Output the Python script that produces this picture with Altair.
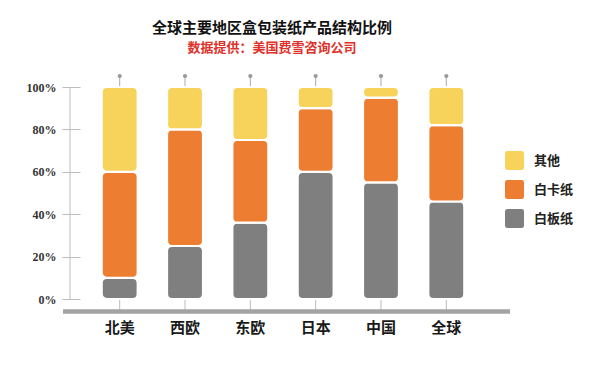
import altair as alt
import pandas as pd

categories = ["北美", "西欧", "东欧", "日本", "中国", "全球"]
series_names = ["其他", "白卡纸", "白板纸"]
baiban = [10, 25, 36, 60, 55, 46]   # 白板纸 (bottom, gray)
baika = [50, 55, 39, 30, 40, 36]    # 白卡纸 (middle, orange)
qita = [40, 20, 25, 10, 5, 18]      # 其他 (top, yellow)
colors = ["#F7D35C", "#ED7D31", "#7F7F7F"]
y_ticks = [0, 0.2, 0.4, 0.6, 0.8, 1.0]

rows = []
for i, c in enumerate(categories):
    total = baiban[i] + baika[i] + qita[i]
    start = 0
    for name, vals in (("白板纸", baiban), ("白卡纸", baika), ("其他", qita)):
        v = vals[i]
        rows.append({"region": c, "type": name, "value": v,
                     "y0": start / total, "y1": (start + v) / total})
        start += v
df = pd.DataFrame(rows)
cat_df = pd.DataFrame({"region": categories})
one = pd.DataFrame({"k": [0]})

FONT = "Noto Sans CJK SC"
x_scale = alt.Scale(paddingInner=0.449, paddingOuter=0.225)
x_axis = alt.Axis(
    title=None, domain=False, ticks=False, labelPadding=21,
    labelFont=FONT, labelFontSize=15, labelFontWeight="bold",
    labelColor="#1a1a1a", labelAngle=0, labelAlign="center",
    labelBaseline="top",
)


def x_enc():
    return alt.X("region:N", sort=categories, scale=x_scale, axis=x_axis)


bars = alt.Chart(df).mark_bar(cornerRadius=5, stroke="white", strokeWidth=2.2).encode(
    x=x_enc(),
    y=alt.Y(
        "y0:Q",
        scale=alt.Scale(domain=[0, 1], nice=False),
        axis=alt.Axis(
            title=None, values=y_ticks, format=".0%", grid=False, domain=False,
            offset=7, tickSize=18, tickColor="#bdbdbd", tickWidth=1,
            labelPadding=6, labelFont="Liberation Serif", labelFontSize=12,
            labelFontWeight="bold", labelColor="#333333",
        ),
    ),
    y2="y1:Q",
    color=alt.Color(
        "type:N",
        scale=alt.Scale(domain=series_names, range=colors),
        legend=alt.Legend(
            title=None, orient="none", legendX=418, legendY=64,
            symbolType="M -0.75,-1 H 0.75 Q 1,-1 1,-0.75 V 0.75 Q 1,1 0.75,1 H -0.75 Q -1,1 -1,0.75 V -0.75 Q -1,-1 -0.75,-1 Z",
            symbolSize=361, symbolStrokeWidth=0, symbolOpacity=1,
            rowPadding=10, labelOffset=10,
            labelFont=FONT, labelFontSize=13, labelFontWeight="bold",
            labelColor="#222222",
        ),
    ),
)

top_rules = alt.Chart(cat_df).mark_rule(color="#aaaaaa", strokeWidth=1).encode(
    x=x_enc(), y=alt.value(-11), y2=alt.value(0),
)
dots = alt.Chart(cat_df).mark_circle(color="#999999", opacity=1, size=18).encode(
    x=x_enc(), y=alt.value(-11),
)
bottom_rules = alt.Chart(cat_df).mark_rule(color="#bbbbbb", strokeWidth=1).encode(
    x=x_enc(), y=alt.value(212), y2=alt.value(224),
)
axis_bar = alt.Chart(one).mark_rule(color="#a3a3a3", strokeWidth=4.5).encode(
    x=alt.value(-24), x2=alt.value(423), y=alt.value(224.5),
)
y_line = alt.Chart(one).mark_rule(color="#bdbdbd", strokeWidth=1).encode(
    x=alt.value(-17), y=alt.value(0), y2=alt.value(212),
)

chart = alt.layer(y_line, bottom_rules, axis_bar, top_rules, dots, bars).properties(
    width=392,
    height=212,
    autosize="none",
    padding={"left": 79, "top": 79, "right": 113, "bottom": 50},
    title=alt.TitleParams(
        text="全球主要地区盒包装纸产品结构比例",
        subtitle="数据提供：美国费雪咨询公司",
        anchor="middle", frame="group", dx=-11, offset=19,
        font=FONT, fontSize=15, fontWeight="bold", color="#111111",
        subtitleFont=FONT, subtitleFontSize=13, subtitleFontWeight="bold",
        subtitleColor="#E0302A", subtitlePadding=6,
    ),
).configure_view(stroke=None)

chart.save("out.html", embed_options={"renderer": "svg", "actions": False})
